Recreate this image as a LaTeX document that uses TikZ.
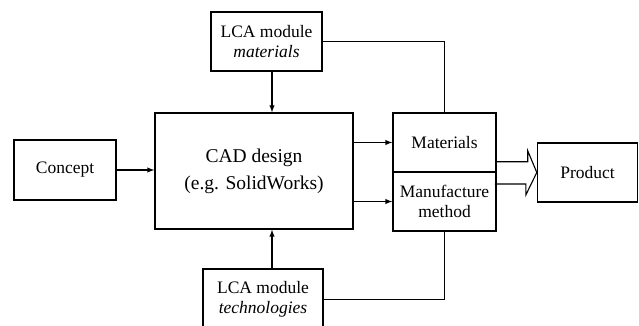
\documentclass[tikz,border=0pt]{standalone}
\usepackage{fontspec}
\setmainfont{Liberation Serif}
\usetikzlibrary{positioning,shapes,arrows}

\begin{document}
\begin{tikzpicture}[
			x=1pt, y=-1pt,
			every node/.style = {shape=rectangle,
				draw, align=center, line width=1.4pt,
				font=\fontsize{17.5}{20}\selectfont},
			link/.style={line width=1.4pt},
			arr/.style={line width=1.4pt, -latex}]
			\useasboundingbox (0,0) rectangle (639,326);
			% boxes
			\node[minimum width=111pt, minimum height=59pt] (matmod) at (266.5,41.5)
				{LCA module\\\textit{materials}};
			\node[minimum width=198pt, minimum height=116pt,
				font=\fontsize{19.5}{27}\selectfont] (cad) at (254,171)
				{CAD design\\(e.g. SolidWorks)};
			\node[minimum width=102pt, minimum height=60pt] (concept) at (65,170) {Concept};
			\node[minimum width=103pt, minimum height=59pt] (mat) at (444.5,142.5) {Materials};
			\node[minimum width=103pt, minimum height=59pt, inner sep=2pt] (manuf) at (444.5,201.5)
				{Manufacture\\method};
			\node[minimum width=100pt, minimum height=59pt] (product) at (587.5,172.5) {Product};
			\node[minimum width=120pt, minimum height=61pt] (techmod) at (263,299.5)
				{LCA module\\\textit{technologies}};
			% connectors
			\draw[arr] ([xshift=5.5pt]matmod.south) -- ([xshift=5.5pt]matmod.south |- cad.north);
			\draw[arr] ([xshift=9pt]techmod.north) -- ([xshift=9pt]techmod.north |- cad.south);
			\draw[arr] (concept.east) -- (concept.east -| cad.west);
			\draw[arr] (cad.east |- mat.west) -- (mat.west);
			\draw[arr] (cad.east |- manuf.west) -- (manuf.west);
			\draw[link] (matmod.east) -| (mat.north);
			\draw[link] (techmod.east) -| (manuf.south);
			% hollow arrow to product
			\draw[link, line width=1.1pt] (mat.south east) ++(0,-11) -- ++(31,0) -- ++(0,-11)
				-- (product.west) -- ++(-11,22.5) -- ++(0,-11) -- ++(-31,0);
			\end{tikzpicture}
\end{document}
